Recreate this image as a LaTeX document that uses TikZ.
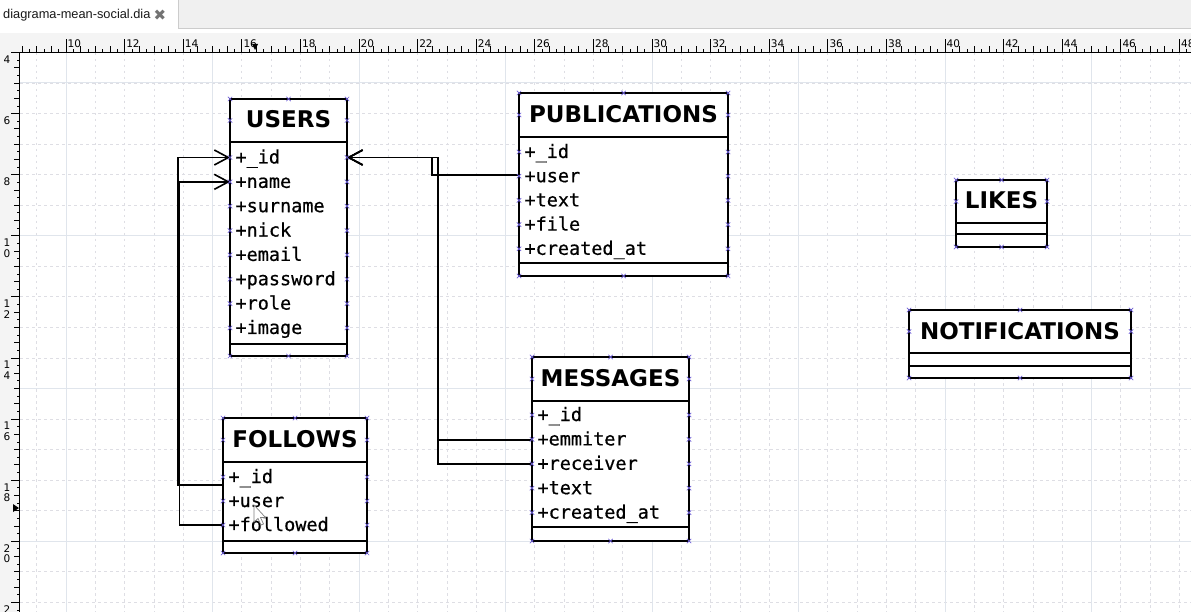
\documentclass[tikz,border=0pt]{standalone}
\usepackage{fontspec}
\usetikzlibrary{arrows.meta}
\newfontfamily\headfont{DejaVu Sans}
\newfontfamily\attrfont{DejaVu Sans Mono}[FakeBold=0.6]
\newfontfamily\tabfont{Liberation Sans}
\newfontfamily\rulerfont{DejaVu Sans}

\definecolor{gridminor}{RGB}{222,222,228}
\definecolor{gridmajor}{RGB}{224,229,236}
\definecolor{rulerbg}{RGB}{244,244,244}
\definecolor{tabgray}{RGB}{240,240,240}
\definecolor{cpblue}{RGB}{110,95,215}

\tikzset{
  classbox/.style={draw, line width=1.8pt, fill=white, inner sep=0pt, outer sep=0pt, anchor=north west},
  cmpline/.style={line width=1.8pt},
  classtitle/.style={font=\headfont\bfseries\fontsize{23}{23}\selectfont, inner sep=0pt, text height=15pt, text depth=0pt},
  attr/.style={anchor=west, font=\attrfont\fontsize{18.5}{18.5}\selectfont, inner xsep=5.5pt, inner ysep=0pt, outer sep=0pt, text height=12pt, text depth=0pt},
  link/.style={line width=1.8pt, -{Straight Barb[length=14pt,width=15pt,line width=1.6pt]}},
  cpmark/.style={draw=cpblue, line width=0.7pt},
  minorline/.style={draw=gridminor, line width=0.8pt, dash pattern=on 2.5pt off 3.5pt},
  majorline/.style={draw=gridmajor, line width=1pt},
  tick/.style={line width=0.8pt},
  rulerlabel/.style={font=\rulerfont\fontsize{10.5}{10.5}\selectfont, inner sep=0pt},
}

\newcommand\cpx[1]{\draw[cpmark] (#1) +(-2.2,-2.2) -- +(2.2,2.2) +(-2.2,2.2) -- +(2.2,-2.2);}

\begin{document}
\begin{tikzpicture}[x=1pt, y=-1pt]
  \useasboundingbox (0,0) rectangle (1191,612);
  \fill[white] (0,0) rectangle (1191,612);

  % tab bar
  \filldraw[fill=tabgray, draw=black!20] (178,-2) rectangle (1193,28);
  \node[anchor=west, inner sep=0pt, font=\tabfont\fontsize{12.8}{13}\selectfont, text=black!90] (tab) at (3,15) {diagrama-mean-social.dia};
  \node[inner sep=0pt, font=\headfont\fontsize{15}{15}\selectfont, text=black!55] (tabclose) at (160,15) {✖};

  % grid
  \foreach \k in {-1,...,38}
    \draw[minorline] ({66+\k*29.3},53) -- ({66+\k*29.3},612);
  \foreach \j in {0,...,17}
    \draw[minorline] (20,{83+\j*30.55}) -- (1191,{83+\j*30.55});
  \foreach \k in {0,5,...,35}
    \draw[majorline] ({66+\k*29.3},53) -- ({66+\k*29.3},612);
  \foreach \j in {0,5,10,15}
    \draw[majorline] (20,{83+\j*30.55}) -- (1191,{83+\j*30.55});

  % rulers
  \fill[rulerbg] (0,33) rectangle (1191,52.5);
  \fill[rulerbg] (0,52.5) rectangle (19.5,612);
  \draw[line width=1pt] (19.5,52.5) -- (1191,52.5);
  \draw[line width=1pt] (19.5,52.5) -- (19.5,612);
  \foreach \q in {34,...,194} {
    \pgfmathsetmacro\tx{66+(\q/4-10)*29.3}
    \pgfmathsetmacro\th{ifthenelse(mod(\q,8)==0,13,ifthenelse(mod(\q,2)==0,6,3))}
    \draw[tick] (\tx,52.5) -- ++(0,-\th);
  }
  \foreach \u in {10,12,...,48}
    \node[rulerlabel, anchor=north west] (hr\u) at ({66+(\u-10)*29.3+1.5},40) {\u};
  \foreach \q in {16,...,89} {
    \pgfmathsetmacro\ty{83+(\q/4-5)*30.55}
    \pgfmathsetmacro\th{ifthenelse(mod(\q,8)==0,9,ifthenelse(mod(\q,2)==0,6,3))}
    \draw[tick] (19.5,\ty) -- ++(-\th,0);
  }
  \foreach \v in {4,6,...,22} {
    \pgfmathsetmacro\ty{83+(\v-5)*30.55}
    \pgfmathtruncatemacro\vt{\v/10}
    \pgfmathtruncatemacro\vo{mod(\v,10)}
    \node[rulerlabel, anchor=north, align=center] (vr\v) at (7,\ty+3) {\ifnum\v<10 \v\else\vt\\\vo\fi};
  }
  \fill (252,44) -- (258,44) -- (255,50) -- cycle;
  \fill (13,504) -- (13,512) -- (19,508) -- cycle;

  % USERS
  \node[classbox, minimum width=117pt, minimum height=257pt] (users) at (230,99) {};
  \draw[cmpline] ([yshift=-43pt]users.north west) -- ([yshift=-43pt]users.north east);
  \draw[cmpline] ([yshift=12pt]users.south west) -- ([yshift=12pt]users.south east);
  \node[classtitle] (users-ttl) at (288.5,120.5) {USERS};
  \foreach \n/\t [count=\i from 0] in {id/+\_id, name/+name, surname/+surname, nick/+nick, email/+email, password/+password, role/+role, image/+image}
    \node[attr] (users-\n) at (230,{157.5+\i*24.35}) {\t};

  % PUBLICATIONS
  \node[classbox, minimum width=209pt, minimum height=183pt] (pubs) at (519,93) {};
  \draw[cmpline] ([yshift=-44pt]pubs.north west) -- ([yshift=-44pt]pubs.north east);
  \draw[cmpline] ([yshift=13pt]pubs.south west) -- ([yshift=13pt]pubs.south east);
  \node[classtitle] (pubs-ttl) at (623.5,115) {PUBLICATIONS};
  \foreach \n/\t [count=\i from 0] in {id/+\_id, user/+user, text/+text, file/+file, created/+created\_at}
    \node[attr] (pubs-\n) at (519,{152+\i*24.2}) {\t};

  % FOLLOWS
  \node[classbox, minimum width=144pt, minimum height=135pt] (follows) at (223,418) {};
  \draw[cmpline] ([yshift=-44pt]follows.north west) -- ([yshift=-44pt]follows.north east);
  \draw[cmpline] ([yshift=12pt]follows.south west) -- ([yshift=12pt]follows.south east);
  \node[classtitle] (follows-ttl) at (295,440) {FOLLOWS};
  \foreach \n/\t [count=\i from 0] in {id/+\_id, user/+user, followed/+followed}
    \node[attr] (follows-\n) at (223,{477+\i*24}) {\t};

  % MESSAGES
  \node[classbox, minimum width=157pt, minimum height=184pt] (msgs) at (532,357) {};
  \draw[cmpline] ([yshift=-44pt]msgs.north west) -- ([yshift=-44pt]msgs.north east);
  \draw[cmpline] ([yshift=14pt]msgs.south west) -- ([yshift=14pt]msgs.south east);
  \node[classtitle] (msgs-ttl) at (610.5,379) {MESSAGES};
  \foreach \n/\t [count=\i from 0] in {id/+\_id, emmiter/+emmiter, receiver/+receiver, text/+text, created/+created\_at}
    \node[attr] (msgs-\n) at (532,{415+\i*24.4}) {\t};

  % LIKES
  \node[classbox, minimum width=91pt, minimum height=67pt] (likes) at (956,180) {};
  \draw[cmpline] ([yshift=-43pt]likes.north west) -- ([yshift=-43pt]likes.north east);
  \draw[cmpline] ([yshift=13pt]likes.south west) -- ([yshift=13pt]likes.south east);
  \node[classtitle] (likes-ttl) at (1001.5,201.5) {LIKES};

  % NOTIFICATIONS
  \node[classbox, minimum width=222pt, minimum height=68pt] (notifs) at (909,310) {};
  \draw[cmpline] ([yshift=-43pt]notifs.north west) -- ([yshift=-43pt]notifs.north east);
  \draw[cmpline] ([yshift=12pt]notifs.south west) -- ([yshift=12pt]notifs.south east);
  \node[classtitle] (notifs-ttl) at (1020,331.5) {NOTIFICATIONS};

  % connectors
  \draw[link] ([yshift=-8pt]follows-id.west) -- ++(-45,0) |- (users-id.west);
  \draw[link] (follows-followed.west) -- ++(-43.5,0) |- (users-name.west);
  \draw[link] ([yshift=1pt]pubs-user.west) -- ++(-87,0) |- (users.east |- users-id.west);
  \draw[link] ([yshift=-0.5pt]msgs-emmiter.west) -- ++(-94,0) |- (users.east |- users-id.west);
  \draw[link] (msgs-receiver.west) -- ++(-94,0) |- (users.east |- users-id.west);

  % connection points
  \foreach \c in {users, pubs, follows, msgs, likes, notifs} {
    \foreach \a in {north west, north, north east, south west, south, south east} {
      \cpx{\c.\a}
    }
    \cpx{\c.west |- \c-ttl}
    \cpx{\c.east |- \c-ttl}
  }
  \foreach \n in {id, name, surname, nick, email, password, role, image} {
    \cpx{users-\n.west}
    \cpx{users.east |- users-\n.west}
  }
  \foreach \n in {id, user, text, file, created} {
    \cpx{pubs-\n.west}
    \cpx{pubs.east |- pubs-\n.west}
  }
  \foreach \n in {id, user, followed} {
    \cpx{follows-\n.west}
    \cpx{follows.east |- follows-\n.west}
  }
  \foreach \n in {id, emmiter, receiver, text, created} {
    \cpx{msgs-\n.west}
    \cpx{msgs.east |- msgs-\n.west}
  }

  % pointer
  \filldraw[fill=white, draw=black!50, line width=0.7pt] (254,505) -- (254,522) -- (258,518.5) -- (261,525) -- (263.5,524) -- (260.5,517.5) -- (265.5,517.5) -- cycle;
\end{tikzpicture}
\end{document}
